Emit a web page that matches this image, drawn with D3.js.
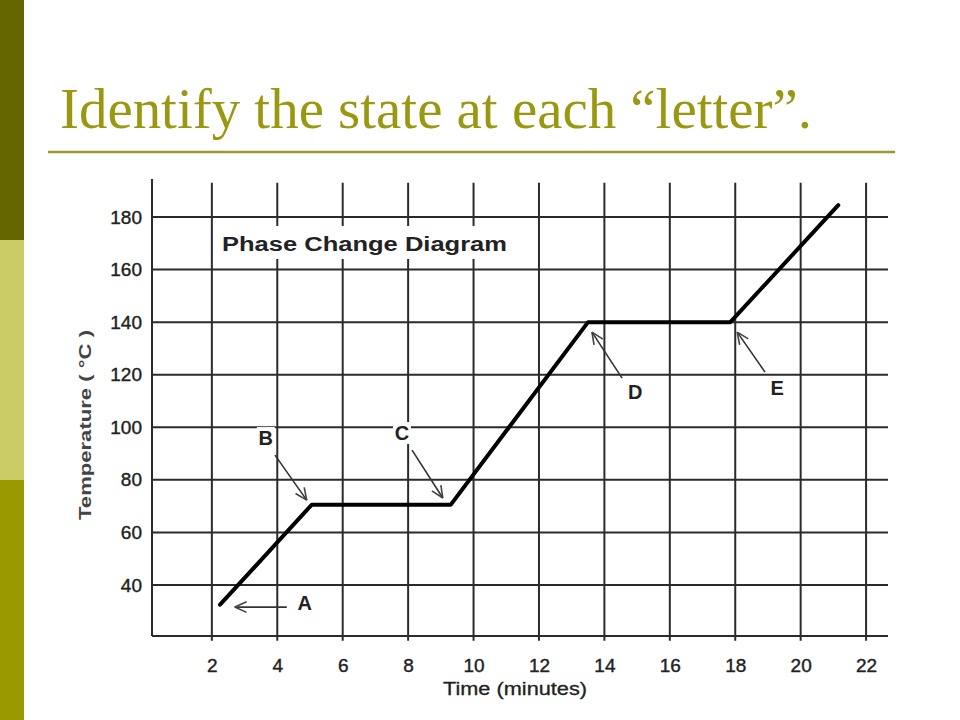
<!DOCTYPE html>
<html>
<head>
<meta charset="utf-8">
<script src="https://cdn.jsdelivr.net/npm/d3@7"></script>
<style>
  html, body { margin: 0; padding: 0; background: #fff; }
  svg { display: block; }
</style>
</head>
<body>
<svg id="chart" width="960" height="720"></svg>
<script>
// ---- data ----
const times = [2.25, 5.05, 9.3, 13.5, 17.85, 21.15];
const temps = [32.5, 70.5, 70.5, 140, 140, 184.5];
const xTicks = [2, 4, 6, 8, 10, 12, 14, 16, 18, 20, 22];
const yTicks = [40, 60, 80, 100, 120, 140, 160, 180];
const labelLetters = ["A", "B", "C", "D", "E"];
const labelTimes = [4.84, 3.65, 7.81, 14.94, 19.28];
const labelTemps = [33.2, 95.9, 97.8, 113.4, 114.9];
const arrowFromTimes = [4.29, 3.93, 8.12, 14.54, 18.91];
const arrowFromTemps = [31.6, 89.4, 91.3, 118.7, 121.0];
const arrowToTimes = [2.7, 4.9, 9.06, 13.62, 18.06];
const arrowToTemps = [31.6, 72.3, 73.1, 136.2, 136.2];
const titleText = "Identify the state at each \u201Cletter\u201D.";
const chartTitle = "Phase Change Diagram";
const xLabel = "Time (minutes)";
const yLabel = "Temperature ( \u00B0C )";

const svg = d3.select("#chart");

// ---- slide decoration ----
const bands = ["#666600", "#cccc66", "#999900"];
svg.selectAll("rect.band").data(bands).join("rect")
  .attr("x", 0).attr("y", (d, i) => i * 240)
  .attr("width", 24).attr("height", 240).attr("fill", d => d);

svg.append("text")
  .attr("x", 60).attr("y", 128)
  .attr("font-family", "'Liberation Serif', 'DejaVu Serif', serif")
  .attr("font-size", 56)
  .attr("fill", "#999911")
  .attr("textLength", 752).attr("lengthAdjust", "spacingAndGlyphs")
  .text(titleText);

svg.append("line")
  .attr("x1", 48).attr("x2", 895).attr("y1", 152).attr("y2", 152)
  .attr("stroke", "#999933").attr("stroke-width", 2.5);

// ---- scales ----
const x = d3.scaleLinear().domain([0.17, 22.67]).range([152, 888]);
const y = d3.scaleLinear().domain([20.6, 180]).range([636, 217]);

const gridColor = "#2b2b2b";
const g = svg.append("g");

// horizontal grid lines
g.selectAll("line.h").data(yTicks.concat([20.6])).join("line")
  .attr("x1", x(0.17)).attr("x2", x(22.67))
  .attr("y1", d => y(d)).attr("y2", d => y(d))
  .attr("stroke", gridColor).attr("stroke-width", 2);

// vertical grid lines (extend slightly below axis as ticks)
g.selectAll("line.v").data(xTicks).join("line")
  .attr("x1", d => x(d)).attr("x2", d => x(d))
  .attr("y1", y(193)).attr("y2", y(18.8))
  .attr("stroke", gridColor).attr("stroke-width", 2);

// left frame
g.append("line")
  .attr("x1", x(0.17)).attr("x2", x(0.17))
  .attr("y1", y(194.5)).attr("y2", y(20.6))
  .attr("stroke", gridColor).attr("stroke-width", 2);

// axes labels via d3 axes (no domain / tick lines)
const xAxis = svg.append("g")
  .attr("transform", `translate(0,${y(20.6)})`)
  .call(d3.axisBottom(x).tickValues(xTicks).tickSize(0).tickPadding(23));
xAxis.select(".domain").remove();
xAxis.selectAll("text")
  .attr("font-family", "Arial, 'Liberation Sans', sans-serif")
  .attr("font-size", 19).attr("fill", "#222")
  .attr("stroke", "#222").attr("stroke-width", 0.4);

const yAxis = svg.append("g")
  .attr("transform", `translate(${x(0.17)},0)`)
  .call(d3.axisLeft(y).tickValues(yTicks).tickSize(0).tickPadding(10));
yAxis.select(".domain").remove();
yAxis.selectAll("text")
  .attr("font-family", "Arial, 'Liberation Sans', sans-serif")
  .attr("font-size", 19).attr("fill", "#222")
  .attr("stroke", "#222").attr("stroke-width", 0.4);

// axis titles
svg.append("text")
  .attr("x", 515).attr("y", 695)
  .attr("text-anchor", "middle")
  .attr("font-family", "Arial, 'Liberation Sans', sans-serif")
  .attr("font-size", 18).attr("fill", "#222")
  .attr("stroke", "#222").attr("stroke-width", 0.3)
  .attr("textLength", 144).attr("lengthAdjust", "spacingAndGlyphs")
  .text(xLabel);

svg.append("text")
  .attr("transform", "translate(91,425) rotate(-90)")
  .attr("text-anchor", "middle")
  .attr("font-family", "Arial, 'Liberation Sans', sans-serif")
  .attr("font-size", 17).attr("font-weight", "bold").attr("fill", "#444")
  .attr("textLength", 190).attr("lengthAdjust", "spacingAndGlyphs")
  .text(yLabel);

// chart title with white background
svg.append("rect")
  .attr("x", 218).attr("y", 226).attr("width", 296).attr("height", 33)
  .attr("fill", "#fff");
svg.append("text")
  .attr("x", 222).attr("y", 251)
  .attr("font-family", "Arial, 'Liberation Sans', sans-serif")
  .attr("font-size", 20).attr("font-weight", "bold").attr("fill", "#222")
  .attr("textLength", 285).attr("lengthAdjust", "spacingAndGlyphs")
  .text(chartTitle);

// data line
const pts = times.map((t, i) => [t, temps[i]]);
svg.append("path")
  .datum(pts)
  .attr("d", d3.line().x(d => x(d[0])).y(d => y(d[1])))
  .attr("fill", "none").attr("stroke", "#000")
  .attr("stroke-width", 4).attr("stroke-linecap", "round").attr("stroke-linejoin", "round");

// annotations
labelLetters.forEach((L, i) => {
  const lx = x(labelTimes[i]), ly = y(labelTemps[i]);
  svg.append("rect")
    .attr("x", lx - 9).attr("y", ly - 11).attr("width", 18).attr("height", 22)
    .attr("fill", "#fff");
  svg.append("text")
    .attr("x", lx).attr("y", ly + 7)
    .attr("text-anchor", "middle")
    .attr("font-family", "Arial, 'Liberation Sans', sans-serif")
    .attr("font-size", 20).attr("font-weight", "bold").attr("fill", "#222")
    .text(L);

  const x1 = x(arrowFromTimes[i]), y1 = y(arrowFromTemps[i]);
  const x2 = x(arrowToTimes[i]), y2 = y(arrowToTemps[i]);
  svg.append("line")
    .attr("x1", x1).attr("y1", y1).attr("x2", x2).attr("y2", y2)
    .attr("stroke", "#333").attr("stroke-width", 1.6);
  const ang = Math.atan2(y1 - y2, x1 - x2);
  const len = 13, spread = 0.42;
  [-spread, spread].forEach(s => {
    svg.append("line")
      .attr("x1", x2).attr("y1", y2)
      .attr("x2", x2 + len * Math.cos(ang + s))
      .attr("y2", y2 + len * Math.sin(ang + s))
      .attr("stroke", "#444").attr("stroke-width", 1.6);
  });
});
</script>
</body>
</html>
